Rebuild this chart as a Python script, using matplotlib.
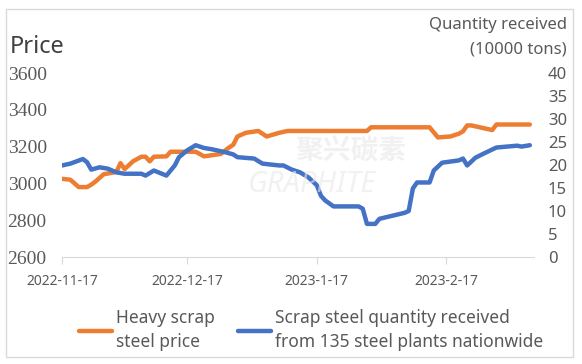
import matplotlib
matplotlib.use("Agg")
import matplotlib.pyplot as plt
from matplotlib.patches import Rectangle
import pandas as pd

# Heavy scrap steel price (yuan/t)
price_dates = ["2022-11-17", "2022-11-19", "2022-11-21", "2022-11-23", "2022-11-24",
               "2022-11-25", "2022-11-27", "2022-11-30", "2022-12-01", "2022-12-02",
               "2022-12-04", "2022-12-06", "2022-12-07", "2022-12-08", "2022-12-09",
               "2022-12-12", "2022-12-13", "2022-12-19", "2022-12-21", "2022-12-25",
               "2022-12-27", "2022-12-28", "2022-12-29", "2022-12-31", "2023-01-03",
               "2023-01-05", "2023-01-08", "2023-01-10", "2023-01-29", "2023-01-30",
               "2023-02-13", "2023-02-15", "2023-02-18", "2023-02-20", "2023-02-21",
               "2023-02-22", "2023-02-23", "2023-02-26", "2023-02-28", "2023-03-01",
               "2023-03-09"]
price = [3025, 3020, 2980, 2980, 2993,
         3010, 3050, 3062, 3110, 3078,
         3120, 3145, 3145, 3120, 3145,
         3147, 3172, 3172, 3147, 3160,
         3195, 3210, 3255, 3275, 3285,
         3255, 3275, 3285, 3285, 3305,
         3305, 3250, 3255, 3270, 3283,
         3315, 3315, 3300, 3290, 3320,
         3320]

# Scrap steel received by 135 steel plants (10000 tons)
qty_dates = ["2022-11-17", "2022-11-19", "2022-11-22", "2022-11-23", "2022-11-24",
             "2022-11-26", "2022-11-28", "2022-11-30", "2022-12-02", "2022-12-06",
             "2022-12-07", "2022-12-09", "2022-12-12", "2022-12-14", "2022-12-15",
             "2022-12-17", "2022-12-19", "2022-12-21", "2022-12-23", "2022-12-26",
             "2022-12-28", "2022-12-29", "2023-01-02", "2023-01-04", "2023-01-08",
             "2023-01-09", "2023-01-11", "2023-01-13", "2023-01-15", "2023-01-17",
             "2023-01-18", "2023-01-19", "2023-01-21", "2023-01-27", "2023-01-28",
             "2023-01-29", "2023-01-31", "2023-02-01", "2023-02-07", "2023-02-08",
             "2023-02-09", "2023-02-10", "2023-02-13", "2023-02-14", "2023-02-16",
             "2023-02-20", "2023-02-21", "2023-02-22", "2023-02-24", "2023-02-26",
             "2023-03-01", "2023-03-06", "2023-03-07", "2023-03-09"]
qty = [19.9, 20.3, 21.3, 20.6, 19.0,
       19.5, 19.2, 18.4, 18.1, 18.1,
       17.7, 18.8, 17.7, 19.9, 21.7,
       23.2, 24.3, 23.7, 23.4, 22.8,
       22.3, 21.7, 21.4, 20.3, 19.9,
       19.9, 19.0, 18.4, 17.3, 15.6,
       13.3, 12.3, 11.0, 11.0, 10.5,
       7.2, 7.2, 8.3, 9.6, 10.0,
       14.9, 16.2, 16.2, 18.8, 20.5,
       21.0, 21.4, 19.9, 21.6, 22.5,
       23.8, 24.2, 24.0, 24.3]

tick_dates = ["2022-11-17", "2022-12-17", "2023-01-17", "2023-02-17"]
tick_labels = ["2022-11-17", "2022-12-17", "2023-1-17", "2023-2-17"]

orange = "#ED7D31"
blue = "#4472C4"
grey = "#595959"

plt.rcParams["font.family"] = ["Noto Sans", "DejaVu Sans"]

fig = plt.figure(figsize=(5.82, 3.64), dpi=100)
ax = fig.add_axes([62 / 582, 1 - 257 / 364, (534 - 62) / 582, (257 - 73) / 364])
ax2 = ax.twinx()

l1, = ax.plot(pd.to_datetime(price_dates), price, color=orange, lw=3.2,
              solid_capstyle="round", solid_joinstyle="round", zorder=3)
l2, = ax2.plot(pd.to_datetime(qty_dates), qty, color=blue, lw=3.2,
               solid_capstyle="round", solid_joinstyle="round", zorder=3)

start = pd.Timestamp("2022-11-17")
ax.set_xlim(start, start + pd.Timedelta(days=113))
ax.set_ylim(2600, 3600)
ax2.set_ylim(0, 40)
ax.set_yticks(range(2600, 3601, 200))
ax2.set_yticks(range(0, 41, 5))
ax.set_xticks(pd.to_datetime(tick_dates))
ax.set_xticklabels(tick_labels)

for a in (ax, ax2):
    for s in a.spines.values():
        s.set_visible(False)
ax.spines["bottom"].set_visible(True)
ax.spines["bottom"].set_color("#d9d9d9")

ax.tick_params(axis="x", colors="#d9d9d9", length=5, labelcolor=grey,
               labelsize=10, pad=7)
ax.tick_params(axis="y", length=0, labelcolor=grey, labelsize=14, pad=11)
for t in ax.get_yticklabels():
    t.set_family("Liberation Serif")
ax2.tick_params(axis="y", length=0, labelcolor=grey, labelsize=12, pad=10)

fig.text(10 / 582, 1 - 47 / 364, "Price", fontsize=17, color="#404040",
         ha="left", va="center")
fig.text(567 / 582, 1 - 25 / 364, "Quantity received", fontsize=12,
         color=grey, ha="right", va="center")
fig.text(567 / 582, 1 - 50 / 364, "(10000 tons)", fontsize=12,
         color=grey, ha="right", va="center")

# faint watermark
fig.text(351 / 582, 1 - 151 / 364, "聚兴碳素", fontsize=20, weight="bold",
         family=["Noto Sans CJK SC", "DejaVu Sans"], color="#e8e8e8",
         alpha=0.6, ha="center", va="center", zorder=10)
fig.text(312 / 582, 1 - 185 / 364, "GRAPHITE", fontsize=21, weight="bold",
         style="italic", color="#e8e8e8", alpha=0.6,
         ha="center", va="center", zorder=10)

leg = fig.legend([l1, l2],
                 ["Heavy scrap\nsteel price",
                  "Scrap steel quantity received\nfrom 135 steel plants nationwide"],
                 loc="center", bbox_to_anchor=(311 / 582, 1 - 330 / 364), ncol=2,
                 frameon=False, fontsize=12.5, labelcolor=grey, handlelength=1.9,
                 handletextpad=0.25, columnspacing=1.3)
for t in leg.get_texts():
    t.set_linespacing(1.45)

fig.add_artist(Rectangle((6 / 582, 1 - 357 / 364), 567 / 582, 348 / 364,
                         transform=fig.transFigure, fill=False,
                         edgecolor="#d9d9d9", lw=1))

fig.savefig("out.png", dpi=100)
